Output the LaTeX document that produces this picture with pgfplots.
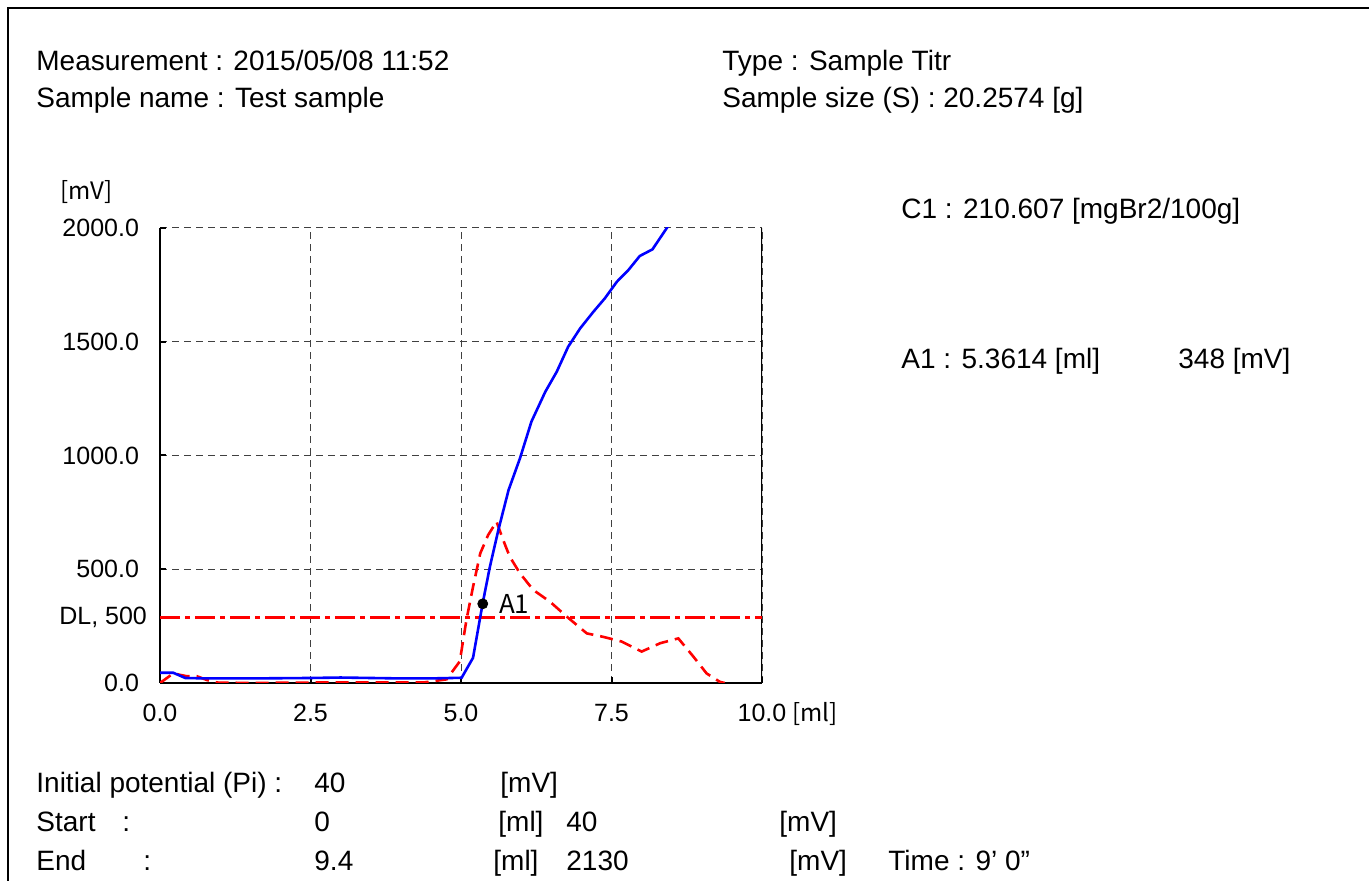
\documentclass[border=0pt]{standalone}
\usepackage{fontspec}
\setmainfont{Liberation Sans}
\newfontfamily\jp{Noto Sans CJK JP}
\usepackage{pgfplots}
\pgfplotsset{compat=1.18}

\begin{document}
\begin{tikzpicture}[x=1pt,y=1pt,
    txt/.style={anchor=base west, inner sep=0pt, font=\fontsize{14}{17}\selectfont}]
\useasboundingbox (0,0) rectangle (684.5,440.5);
% page frame (cut at right and bottom)
\draw[line width=1pt] (4,0) -- (4,436.5) -- (684.5,436.5);

% header
\node[txt] at (18,405) {Measurement : 2015/05/08 11:52};
\node[txt] at (18,386.5) {Sample name : Test sample};
\node[txt] at (361,405) {Type : Sample Titr};
\node[txt] at (361,386.5) {Sample size (S) : 20.2574 [g]};

% results
\node[txt] at (450.5,331) {C1 : 210.607 [mgBr2/100g]};
\node[txt] at (450.5,256) {A1 : 5.3614 [ml]};
\node[txt] at (589,256) {348 [mV]};

% footer
\node[txt] at (18,44) {Initial potential (Pi) :};
\node[txt] at (157,44) {40};
\node[txt] at (250,44) {[mV]};
\node[txt] at (18,24.5) {Start};
\node[txt] at (61,24.5) {:};
\node[txt] at (157,24.5) {0};
\node[txt] at (249,24.5) {[ml]};
\node[txt] at (283,24.5) {40};
\node[txt] at (389.5,24.5) {[mV]};
\node[txt] at (18,5) {End};
\node[txt] at (71.5,5) {:};
\node[txt] at (157,5) {9.4};
\node[txt] at (246.5,5) {[ml]};
\node[txt] at (283,5) {2130};
\node[txt] at (394.5,5) {[mV]};
\node[txt] at (444,5) {Time : 9’ 0”};

% axis units
\node[anchor=base west, inner sep=0pt, font=\jp\fontsize{12}{14}\selectfont] at (30,340.5) {[mV]};
\node[anchor=base west, inner sep=0pt, font=\jp\fontsize{12}{14}\selectfont] at (396,79.5) {[ml]};

\begin{axis}[
    at={(80pt,99pt)}, anchor=south west,
    scale only axis, width=301pt, height=227.5pt,
    xmin=0, xmax=10, ymin=0, ymax=2000,
    axis x line*=bottom, axis y line*=left,
    axis line style={line width=1.2pt},
    xtick={0,2.5,5,7.5,10},
    ytick={0,500,1000,1500,2000},
    tick style={black, line width=1pt},
    major tick length=3pt,
    grid=major,
    grid style={black!75, line width=0.5pt, dash pattern=on 3.5pt off 2.5pt},
    ticklabel style={font=\fontsize{12.5}{14}\selectfont},
    /pgf/number format/assume math mode=true,
    /pgf/number format/.cd, fixed, fixed zerofill, precision=1, 1000 sep={},
    /pgfplots/.cd,
    xticklabel style={yshift=-7pt},
    yticklabel style={xshift=-7pt},
    extra y ticks={290},
    extra y tick labels={DL{,} 500},
    extra y tick style={grid=none, major tick length=0pt, yticklabel style={xshift=4pt}},
]
% right border
\draw[black, line width=0.8pt] (rel axis cs:1,0) -- (rel axis cs:1,1);

% detection level
\addplot[red, line width=1.5pt, dash pattern=on 10pt off 2.5pt on 2.5pt off 2.5pt]
  coordinates {(0,290) (10,290)};

% first derivative (dashed)
\addplot[red, line width=1.3pt, dash pattern=on 6.5pt off 3.5pt] coordinates {
 (0,0) (0.22,42) (0.44,30) (0.61,30) (0.78,13) (0.95,2) (1.5,0) (2.5,2)
 (3.5,2) (4.4,3) (4.76,16) (4.98,95) (5.09,277) (5.20,423) (5.32,570)
 (5.45,650) (5.59,709) (5.70,629) (5.81,555) (5.98,482) (6.20,409)
 (6.48,357) (6.76,291) (7.09,218) (7.36,203) (7.67,182) (8.00,138)
 (8.31,175) (8.61,196) (8.86,116) (9.08,42) (9.30,5) (9.38,0)
};

% titration curve
\addplot[blue, line width=1.3pt] coordinates {
 (0,45) (0.22,45) (0.42,22) (0.8,20) (1.5,20) (2.5,22) (3.0,24) (3.5,22)
 (4.0,20) (4.5,20) (5.01,23) (5.2,111) (5.36,350) (5.48,511) (5.62,672)
 (5.79,848) (5.98,988) (6.17,1149) (6.40,1280) (6.59,1368) (6.78,1478)
 (6.98,1559) (7.20,1632) (7.39,1691) (7.59,1764) (7.78,1815) (7.97,1877)
 (8.18,1906) (8.47,2020) (9.4,2130)
};

% end point A1
\addplot[only marks, mark=*, mark size=2.5pt, black] coordinates {(5.3614,348)};
\node[anchor=west, font=\jp\fontsize{13}{15}\selectfont, inner sep=0pt]
  at (axis cs:5.3614,348) [xshift=8pt] {A1};
\end{axis}
\end{tikzpicture}
\end{document}
